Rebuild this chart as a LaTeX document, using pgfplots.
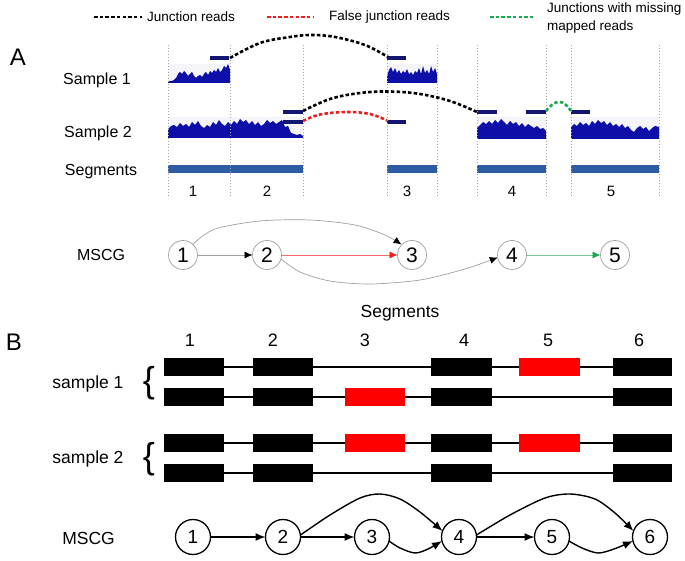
\documentclass[border=0pt]{standalone}
\usepackage{pgfplots}
\pgfplotsset{compat=1.18}
\usepackage{fontspec}
\setmainfont{Liberation Sans}
\usetikzlibrary{arrows.meta}
\definecolor{covblue}{RGB}{14,14,168}
\definecolor{readblue}{RGB}{18,22,112}
\definecolor{segblue}{RGB}{44,93,163}
\definecolor{bggray}{RGB}{244,244,249}
\definecolor{vgray}{RGB}{165,165,165}
\definecolor{jred}{RGB}{235,30,30}
\definecolor{jgreen}{RGB}{25,170,80}
\definecolor{egray}{RGB}{160,160,160}
\definecolor{ered}{RGB}{240,110,110}
\definecolor{egreen}{RGB}{120,200,150}
\newcommand{\fs}[1]{\fontsize{#1}{#1}\selectfont}
\begin{document}
\begin{tikzpicture}[nd/.style={inner sep=0pt},
  jdash/.style={line width=2.6pt,dash pattern=on 3.5pt off 2.2pt,smooth,tension=0.6}]
\begin{axis}[width=685pt,height=561pt,scale only axis,
  xmin=0,xmax=685,ymin=0,ymax=561,y dir=reverse,hide axis,clip=false]
% background
\addplot[fill=white,draw=none] coordinates {(0,0)(685,0)(685,561)(0,561)} --cycle;

% ---------- Panel A ----------
% light backgrounds of coverage tracks
\addplot[fill=bggray,draw=none] coordinates {(168,64)(230,64)(230,83)(168,83)} --cycle;
\addplot[fill=bggray,draw=none] coordinates {(387,64)(437,64)(437,83)(387,83)} --cycle;
\addplot[fill=bggray,draw=none] coordinates {(168,117)(303,117)(303,138)(168,138)} --cycle;
\addplot[fill=bggray,draw=none] coordinates {(477,117)(546,117)(546,139)(477,139)} --cycle;
\addplot[fill=bggray,draw=none] coordinates {(571,117)(659,117)(659,139)(571,139)} --cycle;

% coverage, sample 1
\addplot[fill=covblue,draw=none] coordinates {(168,83)(168,82)(170,81)(172,81)(174,80)(176,78)(178,74)(180,72)(182,74)(184,71)(186,73)(188,76)(190,74)(192,72)(194,76)(196,78)(198,76)(200,75)(202,77)(204,74)(206,72)(208,75)(210,71)(212,73)(214,70)(216,72)(218,68)(220,72)(222,70)(224,66)(226,68)(228,64)(230,70)(230,83)} --cycle;
\addplot[fill=covblue,draw=none] coordinates {(387,83)(387,76)(389,70)(391,67)(393,72)(395,68)(397,73)(399,70)(401,74)(403,71)(405,73)(407,69)(409,74)(411,72)(413,75)(415,71)(417,73)(419,68)(421,74)(423,66)(425,73)(427,70)(429,74)(431,66)(433,72)(435,68)(437,74)(437,83)} --cycle;
% coverage, sample 2
\addplot[fill=covblue,draw=none] coordinates {(168,138)(168,129)(171,126)(174,125)(177,127)(180,123)(183,126)(186,124)(189,127)(192,122)(195,125)(198,121)(201,126)(204,128)(207,125)(210,127)(213,122)(216,125)(219,120)(222,124)(225,126)(228,122)(231,125)(234,121)(237,124)(240,119)(243,122)(246,120)(249,124)(252,121)(255,125)(258,122)(261,126)(264,124)(267,120)(270,123)(273,121)(276,124)(279,122)(282,120)(285,127)(288,126)(291,133)(294,134)(297,135)(300,134)(303,136)(303,138)} --cycle;
\addplot[fill=covblue,draw=none] coordinates {(477,139)(477,128)(480,125)(483,122)(486,124)(489,121)(492,124)(495,120)(498,123)(501,119)(504,122)(507,125)(510,121)(513,124)(516,122)(519,126)(522,123)(525,127)(528,124)(531,126)(534,128)(537,126)(540,129)(543,128)(546,131)(546,139)} --cycle;
\addplot[fill=covblue,draw=none] coordinates {(571,139)(571,127)(574,124)(577,126)(580,122)(583,125)(586,123)(589,126)(592,121)(595,124)(598,120)(601,123)(604,121)(607,125)(610,122)(613,126)(616,124)(619,127)(622,124)(625,128)(628,126)(631,130)(634,132)(637,128)(640,126)(643,129)(646,127)(649,131)(652,128)(655,126)(659,127)(659,139)} --cycle;

% reads
\addplot[fill=readblue,draw=none] coordinates {(210,56)(229,56)(229,60.5)(210,60.5)} --cycle;
\addplot[fill=readblue,draw=none] coordinates {(387,56)(406,56)(406,60.5)(387,60.5)} --cycle;
\addplot[fill=readblue,draw=none] coordinates {(283,110)(303,110)(303,114.5)(283,114.5)} --cycle;
\addplot[fill=readblue,draw=none] coordinates {(283,120)(303,120)(303,124.5)(283,124.5)} --cycle;
\addplot[fill=readblue,draw=none] coordinates {(387,120)(406,120)(406,124.5)(387,124.5)} --cycle;
\addplot[fill=readblue,draw=none] coordinates {(477,110)(497,110)(497,114.5)(477,114.5)} --cycle;
\addplot[fill=readblue,draw=none] coordinates {(526,110)(546,110)(546,114.5)(526,114.5)} --cycle;
\addplot[fill=readblue,draw=none] coordinates {(571,110)(590,110)(590,114.5)(571,114.5)} --cycle;

% segment bars
\addplot[fill=segblue,draw=none] coordinates {(168,165)(303,165)(303,173)(168,173)} --cycle;
\addplot[fill=segblue,draw=none] coordinates {(387,165)(437,165)(437,173)(387,173)} --cycle;
\addplot[fill=segblue,draw=none] coordinates {(477,165)(546,165)(546,173)(477,173)} --cycle;
\addplot[fill=segblue,draw=none] coordinates {(571,165)(659,165)(659,173)(571,173)} --cycle;

% segment boundaries
\foreach \xx in {168,230,303,387,437,477,546,571,659}{
  \edef\tmp{\noexpand\addplot[vgray,line width=0.6pt,dash pattern=on 1.5pt off 1.5pt] coordinates {(\xx,45)(\xx,198)};}
  \tmp
}

% junction arcs
\addplot[jdash,black] coordinates {(230,58)(260,43)(290,37)(311,35)(335,37)(365,45)(388,57)};
\addplot[jdash,black] coordinates {(303,111)(330,99)(360,93)(390,91.5)(420,94)(450,101)(477,112)};
\addplot[jdash,jred] coordinates {(303,121)(320,114.5)(347,112)(370,114)(387,120.5)};
\addplot[jdash,jgreen] coordinates {(546,111)(553,104)(559,102)(565,104)(571,111)};

% legend
\addplot[line width=2.6pt,dash pattern=on 3.5pt off 2.2pt,black] coordinates {(94,17)(142,17)};
\addplot[line width=2.6pt,dash pattern=on 3.5pt off 2.2pt,jred] coordinates {(267,17)(313,17)};
\addplot[line width=2.6pt,dash pattern=on 3.5pt off 2.2pt,jgreen] coordinates {(490,17)(534,17)};
\node[nd,anchor=west] at (axis cs:147,17) {\fs{13.5}Junction reads};
\node[nd,anchor=west] at (axis cs:329,17) {\fs{13.5}False junction reads};
\node[nd,anchor=west] at (axis cs:547,9) {\fs{13.5}Junctions with missing};
\node[nd,anchor=west] at (axis cs:547,27) {\fs{13.5}mapped reads};

% labels
\node[nd] at (axis cs:18,57) {\fs{24}A};
\node[nd] at (axis cs:97,80) {\fs{16}Sample 1};
\node[nd] at (axis cs:98,133) {\fs{16}Sample 2};
\node[nd] at (axis cs:101,172) {\fs{16}Segments};
\node[nd] at (axis cs:193,191) {\fs{15}1};
\node[nd] at (axis cs:267,191) {\fs{15}2};
\node[nd] at (axis cs:407,191) {\fs{15}3};
\node[nd] at (axis cs:512,191) {\fs{15}4};
\node[nd] at (axis cs:611,191) {\fs{15}5};

% MSCG (A)
\node[nd] at (axis cs:101,255) {\fs{16}MSCG};
\addplot[egray,line width=0.7pt,-{Latex[black,length=8pt,width=7pt]}] coordinates {(197.5,255)(252.5,255)};
\addplot[ered,line width=0.7pt,-{Latex[jred,length=8pt,width=7pt]}] coordinates {(281.5,255)(397.5,255)};
\addplot[egray,line width=0.7pt,smooth,-{Latex[black,length=8pt,width=7pt]}] coordinates {(193,244)(215,229)(260,221)(310,220)(355,225)(385,235)(401.5,244.5)};
\addplot[egray,line width=0.7pt,smooth,-{Latex[black,length=8pt,width=7pt]}] coordinates {(281,259)(300,272)(330,281)(370,284)(420,280)(465,269)(497.8,257.5)};
\addplot[egreen,line width=0.7pt,-{Latex[jgreen,length=8pt,width=7pt]}] coordinates {(526.5,255)(600.5,255)};
\addplot[only marks,mark=*,mark size=14.5pt,mark options={fill=white,draw=egray,line width=0.7pt},
  nodes near coords,point meta=explicit symbolic,
  every node near coord/.style={anchor=center,inner sep=0pt,font=\fs{21}}]
  coordinates {(183,255)[1] (267,255)[2] (412,255)[3] (512,255)[4] (615,255)[5]};

% ---------- Panel B ----------
\node[nd] at (axis cs:14,342) {\fs{24}B};
\node[nd] at (axis cs:400,313) {\fs{17.5}Segments};
\node[nd] at (axis cs:190,340) {\fs{18}1};
\node[nd] at (axis cs:273,340) {\fs{18}2};
\node[nd] at (axis cs:365,340) {\fs{18}3};
\node[nd] at (axis cs:464,340) {\fs{18}4};
\node[nd] at (axis cs:548,340) {\fs{18}5};
\node[nd] at (axis cs:639,340) {\fs{18}6};
\node[nd] at (axis cs:88,384) {\fs{17.5}sample 1};
\node[nd] at (axis cs:88,459) {\fs{17.5}sample 2};
\node[nd] at (axis cs:149,383) {\fs{36}\{};
\node[nd] at (axis cs:149,459) {\fs{36}\{};

% intron lines
\addplot[black,line width=1.5pt] coordinates {(164,367)(672,367)};
\addplot[black,line width=1.5pt] coordinates {(164,397)(672,397)};
\addplot[black,line width=1.5pt] coordinates {(164,443)(672,443)};
\addplot[black,line width=1.5pt] coordinates {(164,473)(672,473)};

% row 1
\addplot[fill=black,draw=none] coordinates {(164,358)(224,358)(224,376)(164,376)} --cycle;
\addplot[fill=black,draw=none] coordinates {(253,358)(313,358)(313,376)(253,376)} --cycle;
\addplot[fill=black,draw=none] coordinates {(431,358)(492,358)(492,376)(431,376)} --cycle;
\addplot[fill=red,draw=none] coordinates {(519,358)(580,358)(580,376)(519,376)} --cycle;
\addplot[fill=black,draw=none] coordinates {(613,358)(672,358)(672,376)(613,376)} --cycle;
% row 2
\addplot[fill=black,draw=none] coordinates {(164,388)(224,388)(224,406)(164,406)} --cycle;
\addplot[fill=black,draw=none] coordinates {(253,388)(313,388)(313,406)(253,406)} --cycle;
\addplot[fill=red,draw=none] coordinates {(345,388)(405,388)(405,406)(345,406)} --cycle;
\addplot[fill=black,draw=none] coordinates {(431,388)(492,388)(492,406)(431,406)} --cycle;
\addplot[fill=black,draw=none] coordinates {(613,388)(672,388)(672,406)(613,406)} --cycle;
% row 3
\addplot[fill=black,draw=none] coordinates {(164,434)(224,434)(224,452)(164,452)} --cycle;
\addplot[fill=black,draw=none] coordinates {(253,434)(313,434)(313,452)(253,452)} --cycle;
\addplot[fill=red,draw=none] coordinates {(345,434)(405,434)(405,452)(345,452)} --cycle;
\addplot[fill=black,draw=none] coordinates {(431,434)(492,434)(492,452)(431,452)} --cycle;
\addplot[fill=red,draw=none] coordinates {(519,434)(580,434)(580,452)(519,452)} --cycle;
\addplot[fill=black,draw=none] coordinates {(613,434)(672,434)(672,452)(613,452)} --cycle;
% row 4
\addplot[fill=black,draw=none] coordinates {(164,464)(224,464)(224,482)(164,482)} --cycle;
\addplot[fill=black,draw=none] coordinates {(253,464)(313,464)(313,482)(253,482)} --cycle;
\addplot[fill=black,draw=none] coordinates {(431,464)(492,464)(492,482)(431,482)} --cycle;
\addplot[fill=black,draw=none] coordinates {(613,464)(672,464)(672,482)(613,482)} --cycle;

% MSCG (B)
\node[nd] at (axis cs:88.5,538) {\fs{17.5}MSCG};
\addplot[black,line width=1.4pt,-{Latex[length=10pt,width=8pt]}] coordinates {(210.5,537)(265.5,537)};
\addplot[black,line width=1.4pt,-{Latex[length=10pt,width=8pt]}] coordinates {(300.5,537)(354.5,537)};
\addplot[black,line width=1.4pt,-{Latex[length=10pt,width=8pt]}] coordinates {(476.5,537)(534.5,537)};
\addplot[black,line width=1.4pt,smooth,tension=0.5,-{Latex[length=10pt,width=8pt]}] coordinates {(300.5,535)(330,515)(360,498)(380,494)(400,499)(420,512)(442.5,531)};
\addplot[black,line width=1.4pt,smooth,tension=0.5,-{Latex[length=10pt,width=8pt]}] coordinates {(389,541)(400,548)(415,553)(428,549)(442,541)};
\addplot[black,line width=1.4pt,smooth,tension=0.5,-{Latex[length=10pt,width=8pt]}] coordinates {(476.5,535)(510,515)(545,498)(570,494)(595,499)(615,513)(633.5,531)};
\addplot[black,line width=1.4pt,smooth,tension=0.5,-{Latex[length=10pt,width=8pt]}] coordinates {(569,541)(582,548)(598,553)(614,549)(633,541)};
\addplot[only marks,mark=*,mark size=17.5pt,mark options={fill=white,draw=black,line width=1.3pt},
  nodes near coords,point meta=explicit symbolic,
  every node near coord/.style={anchor=center,inner sep=0pt,font=\fs{19}}]
  coordinates {(193,537)[1] (283,537)[2] (372,537)[3] (459,537)[4] (552,537)[5] (650,537)[6]};
\end{axis}
\end{tikzpicture}
\end{document}
